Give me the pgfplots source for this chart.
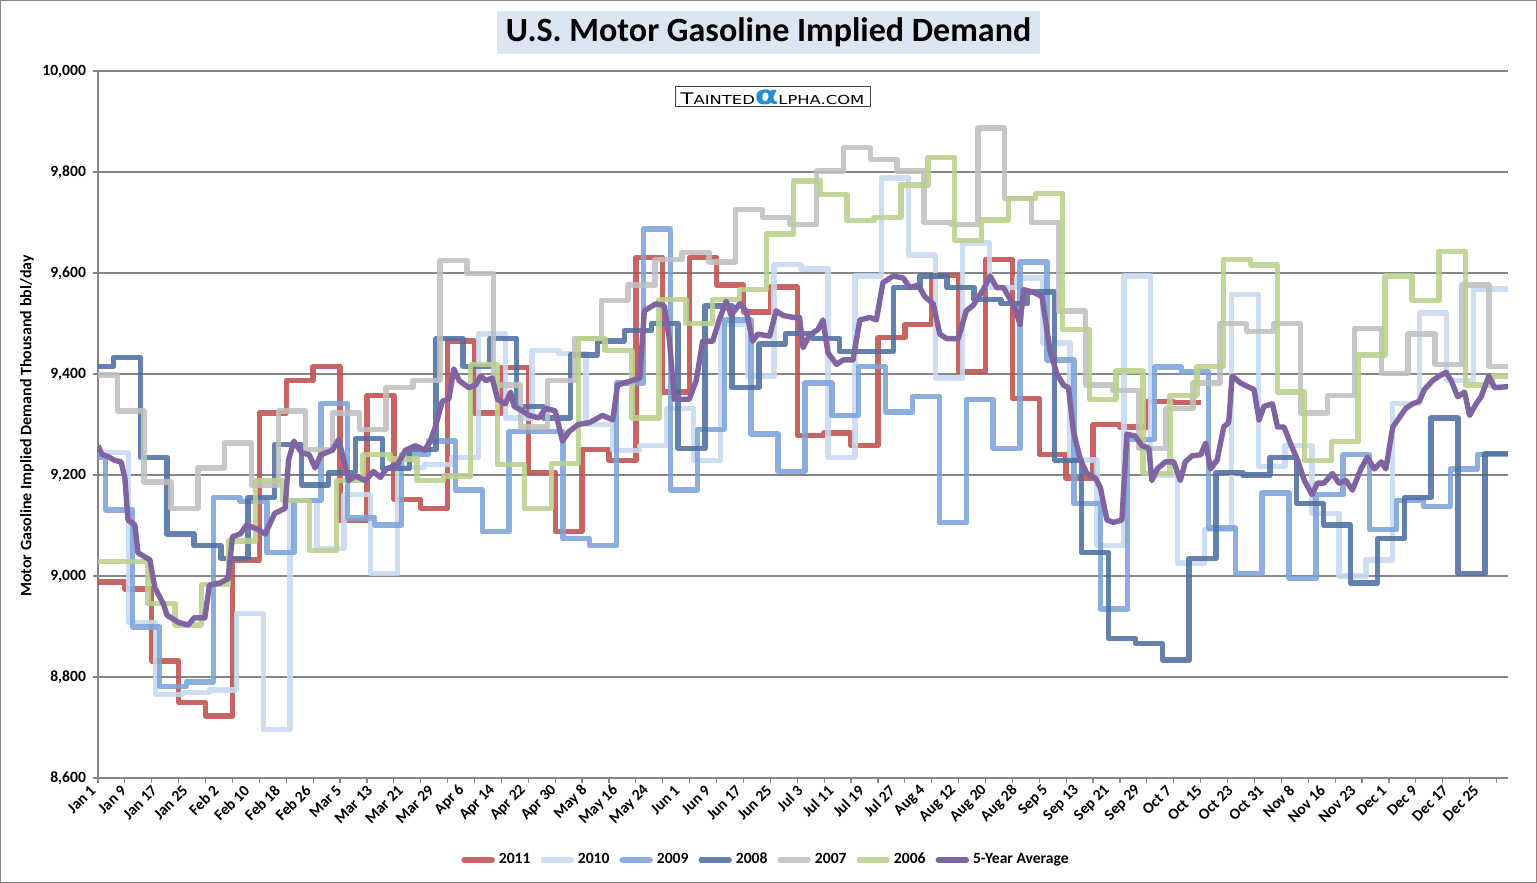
\documentclass[border=0pt]{standalone}
\usepackage{fontspec}
\setmainfont{Carlito}
\newfontfamily\wmfont{DejaVu Sans}
\usepackage{graphicx}
\usepackage{pgfplots}
\pgfplotsset{compat=1.18}

\definecolor{c2011}{HTML}{C0504D}
\definecolor{c2010}{HTML}{C6D9F1}
\definecolor{c2009}{HTML}{7BA3D9}
\definecolor{c2008}{HTML}{4D6FA0}
\definecolor{c2007}{HTML}{BFBFBF}
\definecolor{c2006}{HTML}{BBD08C}
\definecolor{c5yr}{HTML}{8064A2}
\definecolor{gridgray}{HTML}{868686}
\definecolor{titlebg}{HTML}{DCE6F2}
\definecolor{alphablue}{HTML}{1F8FD8}

\begin{document}
\begin{tikzpicture}[x=1pt,y=1pt]
\useasboundingbox (0,0) rectangle (768.5,441.5);
\draw[line width=0.6pt, color=gridgray] (0.3,0.3) rectangle (768.2,441.2);
\node[fill=titlebg, minimum width=271.5pt, minimum height=21.5pt, inner sep=0pt]
  at (384.25,425.25) {\fontsize{17}{20}\selectfont\bfseries U.S. Motor Gasoline Implied Demand};

\begin{axis}[
  at={(49pt,52.5pt)}, anchor=south west,
  scale only axis, width=705pt, height=353.5pt,
  xmin=0, xmax=367, ymin=8600, ymax=10000,
  axis x line*=bottom, axis y line*=left,
  axis line style={color=gridgray, line width=0.6pt},
  xtick={0,8,...,360},
  xticklabels={Jan 1,Jan 9,Jan 17,Jan 25,Feb 2,Feb 10,Feb 18,Feb 26,Mar 5,Mar 13,Mar 21,Mar 29,Apr 6,Apr 14,Apr 22,Apr 30,May 8,May 16,May 24,Jun 1,Jun 9,Jun 17,Jun 25,Jul 3,Jul 11,Jul 19,Jul 27,Aug 4,Aug 12,Aug 20,Aug 28,Sep 5,Sep 13,Sep 21,Sep 29,Oct 7,Oct 15,Oct 23,Oct 31,Nov 8,Nov 16,Nov 23,Dec 1,Dec 9,Dec 17,Dec 25},
  minor xtick={0,7,...,364},
  major x tick style={draw=none},
  minor x tick style={color=gridgray, line width=0.6pt},
  y tick style={color=gridgray, line width=0.6pt},
  ytick={8600,8800,...,10000},
  scaled y ticks=false,
  ymajorgrids, grid style={color=gridgray, line width=0.6pt},
  tick align=outside, major tick length=2.5pt, minor tick length=2.5pt,
  tick label style={font=\fontsize{7.8}{9}\selectfont\bfseries},
  xticklabel style={rotate=45, anchor=east},
  /pgf/number format/assume math mode=true,
  /pgf/number format/1000 sep={,},
  legend style={at={(0.4745,-0.116)}, anchor=center, draw=none, fill=none,
    legend columns=-1, font=\fontsize{7.8}{9}\selectfont\bfseries,
    /tikz/every even column/.append style={column sep=3pt}},
  legend image code/.code={\draw[#1, line cap=round] (0pt,0pt) -- (14pt,0pt);},
  every axis plot/.append style={line width=2.7pt, line join=round, opacity=0.88},
]

% 2011
\addplot[color=c2011, const plot] coordinates {
(0,8988)(7,8974)(14,8832)(21,8749)(28,8723)(35,9032)(42,9323)(49,9387)(56,9415)(63,9110)
(70,9358)(77,9152)(84,9134)(91,9465)(98,9323)(105,9413)(112,9205)(119,9088)(126,9251)(133,9229)
(140,9631)(147,9364)(154,9631)(161,9576)(168,9523)(175,9572)(182,9278)(189,9283)(196,9258)(203,9472)
(210,9498)(217,9595)(224,9405)(231,9627)(238,9352)(245,9241)(252,9193)(259,9300)(266,9295)(273,9346)
(280,9344)(287,9344)};
\addlegendentry{2011}

% 2010
\addplot[color=c2010, const plot] coordinates {
(0,9244)(1,9244)(8,8908)(15,8765)(22,8769)(29,8774)(36,8926)(43,8696)(50,9150)(57,9055)
(64,9161)(71,9005)(78,9215)(85,9221)(92,9235)(99,9479)(106,9313)(113,9447)(120,9441)(127,9300)
(134,9249)(141,9258)(148,9332)(155,9229)(162,9498)(169,9396)(176,9617)(183,9608)(190,9235)(197,9594)
(204,9788)(211,9636)(218,9392)(225,9659)(232,9571)(239,9590)(246,9461)(253,9230)(260,9060)(267,9594)
(274,9200)(281,9026)(288,9092)(295,9558)(302,9217)(309,9258)(316,9124)(323,9000)(330,9032)(337,9341)
(344,9521)(351,9387)(358,9568)(367,9568)};
\addlegendentry{2010}

% 2009
\addplot[color=c2009, const plot] coordinates {
(0,9235)(2,9131)(9,8899)(16,8781)(23,8790)(30,9155)(37,9147)(44,9046)(51,9150)(58,9341)
(65,9115)(72,9101)(79,9241)(86,9267)(93,9170)(100,9088)(107,9286)(114,9286)(121,9074)(128,9060)
(135,9382)(142,9687)(149,9170)(156,9290)(163,9507)(170,9281)(177,9207)(184,9382)(191,9318)(198,9415)
(205,9325)(212,9355)(219,9106)(226,9350)(233,9253)(240,9622)(247,9428)(254,9143)(261,8935)(268,9270)
(275,9414)(282,9404)(289,9095)(296,9005)(303,9164)(310,8995)(317,9161)(324,9240)(331,9092)(338,9150)
(345,9138)(352,9212)(359,9241)(367,9241)};
\addlegendentry{2009}

% 2008
\addplot[color=c2008, const plot] coordinates {
(0,9415)(4,9433)(11,9235)(18,9083)(25,9060)(32,9035)(39,9155)(46,9260)(53,9180)(60,9205)
(67,9272)(74,9213)(81,9250)(88,9470)(95,9415)(102,9470)(109,9336)(116,9313)(123,9438)(130,9465)
(137,9486)(144,9500)(151,9253)(158,9535)(165,9373)(172,9459)(179,9480)(186,9470)(193,9444)(200,9444)
(207,9571)(214,9594)(221,9571)(228,9548)(235,9539)(242,9562)(249,9229)(256,9046)(263,8876)(270,8866)
(277,8834)(284,9035)(291,9205)(298,9200)(305,9235)(312,9143)(319,9101)(326,8986)(333,9074)(340,9155)
(347,9313)(354,9005)(361,9243)(367,9243)};
\addlegendentry{2008}

% 2007
\addplot[color=c2007, const plot] coordinates {
(0,9398)(5,9327)(12,9186)(19,9134)(26,9214)(33,9263)(40,9180)(47,9327)(54,9251)(61,9323)
(68,9290)(75,9373)(82,9387)(89,9625)(96,9599)(103,9378)(110,9295)(117,9387)(124,9470)(131,9546)
(138,9576)(145,9627)(152,9641)(159,9622)(166,9726)(173,9710)(180,9696)(187,9802)(194,9848)(201,9825)
(208,9802)(215,9700)(222,9696)(229,9887)(236,9748)(243,9700)(250,9525)(257,9378)(264,9367)(271,9253)
(278,9332)(285,9382)(292,9500)(299,9484)(306,9500)(313,9323)(320,9358)(327,9490)(334,9401)(341,9479)
(348,9419)(355,9576)(362,9415)(367,9415)};
\addlegendentry{2007}

% 2006
\addplot[color=c2006, const plot] coordinates {
(0,9029)(6,9029)(13,8945)(20,8903)(27,8983)(34,9069)(41,9189)(48,9150)(55,9051)(62,9189)
(69,9240)(76,9232)(83,9189)(90,9198)(97,9419)(104,9221)(111,9134)(118,9223)(125,9470)(132,9447)
(139,9313)(146,9548)(153,9500)(160,9548)(167,9567)(174,9677)(181,9782)(188,9755)(195,9704)(202,9710)
(209,9774)(216,9829)(223,9664)(230,9705)(237,9747)(244,9758)(251,9488)(258,9350)(265,9406)(272,9203)
(279,9358)(286,9415)(293,9627)(300,9616)(307,9364)(314,9229)(321,9266)(328,9438)(335,9594)(342,9546)
(349,9643)(356,9378)(363,9396)(367,9396)};
\addlegendentry{2006}

% 5-year average
\addplot[color=c5yr, opacity=1] coordinates {
(0,9258)(1,9241)(3,9235)(4.3,9229)(6,9226)(7,9194)(7.8,9111)(9.6,9101)(10.4,9046)(13.5,9032)
(14.8,8977)(17,8945)(18,8922)(21,8908)(23.5,8903)(25,8917)(27.8,8917)(29,8982)(31.7,8986)(33.9,8995)
(35,9078)(37,9083)(38.7,9101)(41.7,9092)(43.5,9083)(46,9124)(48.7,9134)(49.6,9230)(51,9267)(53,9244)
(55,9240)(56.5,9214)(58,9240)(61,9249)(62.6,9270)(64,9230)(65.2,9189)(67,9198)(69.6,9189)(71.7,9207)
(73.5,9195)(75,9212)(78,9221)(80,9249)(82.6,9258)(85,9249)(86.5,9267)(87.8,9295)(89.6,9346)(91.3,9350)
(92.6,9410)(94,9387)(96.5,9373)(98.3,9378)(99.6,9396)(101,9387)(102.6,9392)(104,9350)(106,9341)(107.4,9364)
(108.3,9336)(110.4,9327)(112.2,9318)(114.8,9313)(116.5,9332)(119,9327)(120.9,9267)(122.6,9286)(125,9300)(128,9304)
(131.3,9318)(134,9309)(135.2,9378)(139,9387)(141,9392)(142.2,9525)(145.2,9539)(147.4,9535)(148.7,9470)(150,9350)
(153.9,9350)(155.7,9387)(157.4,9465)(160,9465)(161.7,9507)(163.5,9544)(164.8,9516)(167,9539)(168.7,9525)(170.4,9465)
(171.7,9479)(174.8,9475)(176.5,9525)(178.3,9516)(180.9,9512)(182.6,9512)(183.5,9452)(185.2,9477)(187.4,9488)(188.7,9507)
(190,9442)(192.2,9419)(194,9428)(196.5,9428)(198.3,9507)(200.9,9512)(202.6,9507)(204.3,9581)(207,9594)(209.6,9590)
(211.3,9571)(213.5,9576)(215.2,9553)(217.4,9539)(219.1,9479)(220.9,9470)(223.9,9470)(226,9525)(227.8,9536)(230.4,9567)
(232.2,9594)(233.9,9571)(235.7,9571)(237.4,9548)(238.7,9530)(240,9498)(240.9,9567)(243.5,9562)(245.7,9553)(247.8,9445)
(249.6,9400)(251.3,9378)(252.6,9373)(253.9,9286)(255.7,9230)(257.4,9203)(259.6,9194)(260.9,9175)(262.6,9111)(264.3,9106)
(266.5,9111)(267.8,9281)(270,9277)(271.7,9258)(273.5,9253)(274.3,9189)(275.7,9212)(277.8,9226)(280,9226)(281.7,9189)
(283,9226)(284.8,9238)(287,9240)(288.3,9263)(289.6,9212)(291.3,9230)(293,9295)(294.3,9304)(295.2,9396)(297.4,9382)
(300.9,9369)(302.2,9309)(303.5,9336)(305.7,9341)(307,9295)(308.7,9295)(310.4,9262)(312.2,9230)(314,9189)(316,9161)
(317.4,9184)(319.1,9184)(321.3,9203)(323,9184)(324.8,9189)(326.5,9170)(328.7,9212)(330.4,9235)(332.2,9212)(334,9226)
(335.2,9212)(337,9295)(339.1,9318)(340.4,9332)(342.2,9341)(343.9,9346)(345.2,9369)(347.4,9387)(349.1,9396)(350.9,9403)
(352.2,9387)(353.9,9355)(355.7,9364)(357,9318)(358.7,9341)(360,9355)(362,9396)(363.5,9373)(367,9375)};
\addlegendentry{5-Year Average}
\end{axis}

\node[rotate=90, font=\fontsize{8}{9}\selectfont\bfseries] at (13.5,228.5)
  {Motor Gasoline Implied Demand Thousand bbl/day};
\node[draw=black!75, fill=white, line width=0.5pt, minimum width=97.5pt, minimum height=10pt, inner sep=0.5pt]
  at (386.25,393) {\scalebox{1.32}[1]{\wmfont\fontsize{8}{8}\selectfont T\fontsize{6.2}{6}\selectfont AINTED{\color{alphablue}\fontsize{13}{8}\selectfont\bfseries α}LPHA.COM}};
\end{tikzpicture}
\end{document}
